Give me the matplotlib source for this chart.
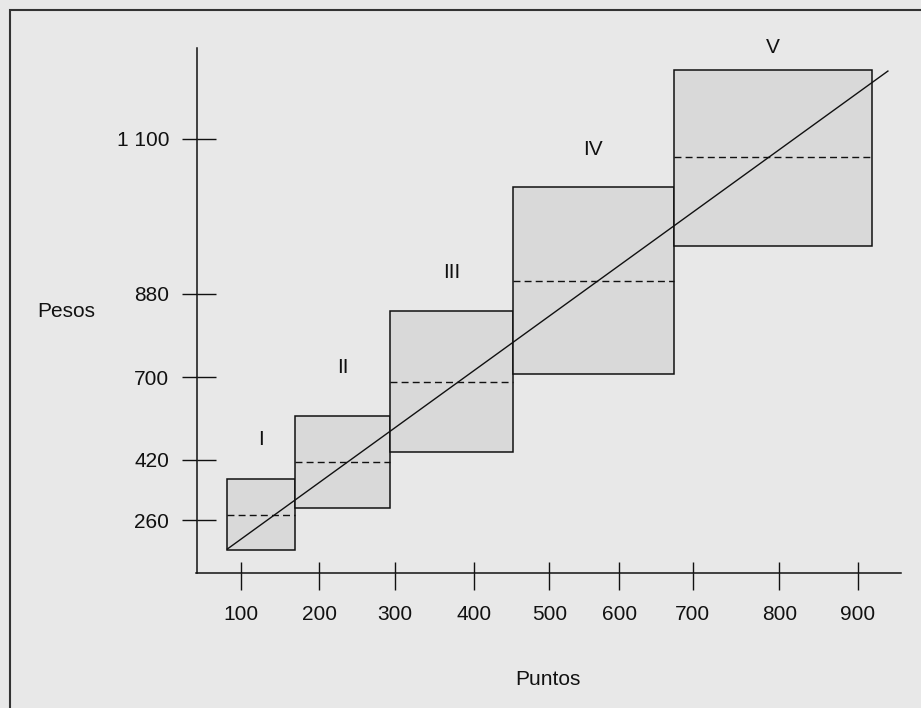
import numpy as np
import matplotlib
matplotlib.use("Agg")
import matplotlib.pyplot as plt
from matplotlib.patches import Rectangle

plt.rcParams['font.family'] = ['Liberation Sans', 'DejaVu Sans']

# ---------------- data ----------------
x_ticks = [100, 200, 300, 400, 500, 600, 700, 800, 900]
x_ticklabels = ['100', '200', '300', '400', '500', '600', '700', '800', '900']
y_ticks = [260, 420, 700, 880, 1100]
y_ticklabels = ['260', '420', '700', '880', '1 100']

grades = ['I', 'II', 'III', 'IV', 'V']
grade_left = [82, 169, 293, 452, 674]     # Puntos
grade_right = [169, 293, 452, 674, 918]   # Puntos
grade_low = [182, 292, 447, 708, 948]     # Pesos
grade_high = [368, 570, 842, 1031, 1198]  # Pesos
grade_mid = [275, 415, 685, 898, 1074]    # Pesos

line_x = [82, 938]
line_y = [184, 1196]

x_label = 'Puntos'
y_label = 'Pesos'

# ---------------- schematic (non-uniform) axis scales ----------------
W, H = 921, 708
x_tick_px = [241.3, 319.3, 395.3, 474.0, 549.3, 619.3, 692.7, 779.3, 858.0]
y_tick_px = [H - p for p in [520.3, 459.7, 377.3, 293.7, 138.7]]


def piecewise(src, dst):
    src = np.asarray(src, float)
    dst = np.asarray(dst, float)
    s0 = (dst[1] - dst[0]) / (src[1] - src[0])
    s1 = (dst[-1] - dst[-2]) / (src[-1] - src[-2])

    def f(v):
        v = np.asarray(v, float)
        out = np.interp(v, src, dst)
        out = np.where(v < src[0], dst[0] + (v - src[0]) * s0, out)
        out = np.where(v > src[-1], dst[-1] + (v - src[-1]) * s1, out)
        return out
    return f


xf, xi = piecewise(x_ticks, x_tick_px), piecewise(x_tick_px, x_ticks)
yf, yi = piecewise(y_ticks, y_tick_px), piecewise(y_tick_px, y_ticks)

BG = '#e8e8e8'
FILL = '#d9d9d9'
INK = '#111111'
FS = 15
PX = 0.72  # points per pixel at dpi 100

fig = plt.figure(figsize=(W / 100, H / 100), dpi=100, facecolor=BG)
ax = fig.add_axes([0, 0, 1, 1])
ax.set_facecolor('none')
ax.set_xscale('function', functions=(xf, xi))
ax.set_yscale('function', functions=(yf, yi))
ax.set_xlim(float(xi(0)), float(xi(W)))
ax.set_ylim(float(yi(0)), float(yi(H)))

# outer frame
fig.add_artist(Rectangle((10 / W, -0.5), 2.0, 1.5 - 9.5 / H, transform=fig.transFigure,
                         fill=False, edgecolor='#333333', linewidth=1.5))

# spines as schematic axes
for s in ['top', 'right']:
    ax.spines[s].set_visible(False)
ax.spines['left'].set_position(('data', float(xi(196.5))))
ax.spines['left'].set_bounds(float(yi(H - 572.5)), float(yi(H - 48)))
ax.spines['bottom'].set_position(('data', float(yi(H - 572.5))))
ax.spines['bottom'].set_bounds(float(xi(196)), float(xi(900.7)))
for s in ['left', 'bottom']:
    ax.spines[s].set_linewidth(1.1)
    ax.spines[s].set_color(INK)

ax.set_xticks(x_ticks)
ax.set_xticklabels(x_ticklabels)
ax.set_yticks(y_ticks)
ax.set_yticklabels(y_ticklabels)
ax.set_xticks(x_ticks, minor=True)
ax.set_yticks(y_ticks, minor=True)
ax.xaxis.remove_overlapping_locs = False
ax.yaxis.remove_overlapping_locs = False
ax.tick_params(axis='x', which='major', direction='out', length=17 * PX, width=1.0,
               color=INK, labelsize=FS, labelcolor=INK, pad=11)
ax.tick_params(axis='x', which='minor', direction='in', length=10.6 * PX, width=1.0,
               color=INK, labelbottom=False)
ax.tick_params(axis='y', which='major', direction='out', length=15 * PX, width=1.0,
               color=INK, labelsize=FS, labelcolor=INK, pad=9)
ax.tick_params(axis='y', which='minor', direction='in', length=19 * PX, width=1.0,
               color=INK, labelleft=False)

# grade boxes
widths = [r - l for l, r in zip(grade_left, grade_right)]
heights = [h - lo for h, lo in zip(grade_high, grade_low)]
ax.bar(grade_left, heights, width=widths, bottom=grade_low, align='edge',
       color=FILL, edgecolor=INK, linewidth=1.1, zorder=2)
ax.hlines(grade_mid, grade_left, grade_right, colors=INK, linewidth=1.0,
          linestyles=(0, (5, 3)), zorder=3)

# wage line
ax.plot(line_x, line_y, color=INK, linewidth=1.0, zorder=4)

# grade labels
label_gap_px = [34, 42.7, 33, 32, 17]
for g, l, r, top, gap in zip(grades, grade_left, grade_right, grade_high, label_gap_px):
    p = ax.transData.transform([[l, top], [r, top]])
    cx = (p[0, 0] + p[1, 0]) / 2
    ax.annotate(g, xy=(cx, p[0, 1]), xycoords='figure pixels',
                xytext=(0, gap * PX), textcoords='offset points',
                ha='center', va='baseline', fontsize=FS, color=INK)

# axis titles
fig.text(66.5 / W, 1 - 316.7 / H, y_label, ha='center', va='baseline', fontsize=FS, color=INK)
fig.text(548 / W, 1 - 684.7 / H, x_label, ha='center', va='baseline', fontsize=FS, color=INK)

fig.savefig('out.png', dpi=100, facecolor=BG)
